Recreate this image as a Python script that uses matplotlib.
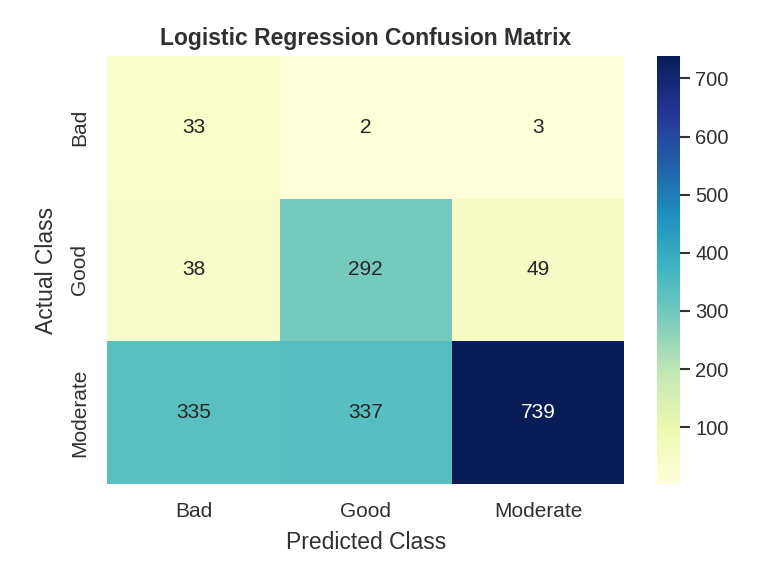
import numpy as np
import matplotlib
matplotlib.use("Agg")
import matplotlib.pyplot as plt
import seaborn as sns

# ---------------------------------------------------------------- data
classes = ["Bad", "Good", "Moderate"]
row_bad = [33, 2, 3]
row_good = [38, 292, 49]
row_moderate = [335, 337, 739]
cm = np.array([row_bad, row_good, row_moderate])
cbar_ticks = [100, 200, 300, 400, 500, 600, 700]

# ---------------------------------------------------------------- style
sns.set_theme(style="white")
plt.rcParams["font.family"] = ["Liberation Sans", "DejaVu Sans"]
plt.rcParams["text.color"] = "#303030"
plt.rcParams["xtick.color"] = "#303030"
plt.rcParams["ytick.color"] = "#303030"
plt.rcParams["axes.labelcolor"] = "#303030"

fig = plt.figure(figsize=(7.66, 5.75), dpi=100)
ax = fig.add_axes([0.140, 0.158, 0.675, 0.745])
cax = fig.add_axes([0.858, 0.158, 0.030, 0.745])

sns.heatmap(cm, annot=True, fmt="d", cmap="YlGnBu", ax=ax, cbar_ax=cax,
            xticklabels=classes, yticklabels=classes,
            annot_kws={"fontsize": 15})

ax.set_title("Logistic Regression Confusion Matrix", fontsize=16.5,
             fontweight="bold", pad=8)
ax.set_xlabel("Predicted Class", fontsize=16.5, labelpad=7)
ax.set_ylabel("Actual Class", fontsize=16.5, labelpad=9)
ax.tick_params(axis="x", length=0, labelsize=15, pad=13)
ax.tick_params(axis="y", length=0, labelsize=15, pad=13)
plt.setp(ax.get_yticklabels(), rotation=90, va="center")
plt.setp(ax.get_xticklabels(), rotation=0)

cax.set_yticks(cbar_ticks)
cax.tick_params(axis="y", length=7, width=1.5, color="#333333",
                labelsize=14.5, pad=4)

fig.savefig("out.png", dpi=100)
